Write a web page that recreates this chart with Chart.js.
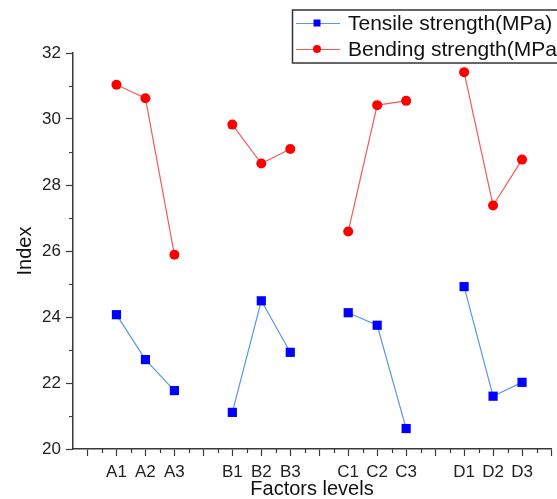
<!DOCTYPE html>
<html>
<head>
<meta charset="utf-8">
<script src="https://cdn.jsdelivr.net/npm/chart.js@4/dist/chart.umd.min.js"></script>
<style>
  html, body { margin: 0; padding: 0; background: #fff; overflow: hidden; }
  #wrap { width: 557px; height: 499px; overflow: hidden; position: relative; }
  #wrap canvas { position: absolute; left: 0; top: 0; }
</style>
</head>
<body>
<div id="wrap"><canvas id="LevelChart" width="600" height="499"></canvas></div>
<script>
// factor groups and their levels (A1..D3)
const groups = ['A', 'B', 'C', 'D'];
const levelsPerGroup = 3;
const levelLabels = ['A1', 'A2', 'A3', 'B1', 'B2', 'B3', 'C1', 'C2', 'C3', 'D1', 'D2', 'D3'];

// values
const tensile = [24.07, 22.71, 21.77, 21.11, 24.49, 22.93, 24.13, 23.75, 20.62, 24.92, 21.60, 22.02];
const bending = [31.04, 30.63, 25.89, 29.83, 28.65, 29.09, 26.59, 30.42, 30.55, 31.42, 27.38, 28.77];

const yTicks = [20, 22, 24, 26, 28, 30, 32];

const FONT = 'Arial, "Liberation Sans", sans-serif';

// every level sits on a whole number, with one empty slot between groups
const labelAt = {};
function buildPoints(values) {
  const pts = [];
  groups.forEach((g, gi) => {
    for (let i = 0; i < levelsPerGroup; i++) {
      const idx = gi * levelsPerGroup + i;
      const x = gi * (levelsPerGroup + 1) + i + 2;
      labelAt[x] = levelLabels[idx];
      pts.push({ x: x, y: values[idx] });
    }
    if (gi < groups.length - 1) {
      pts.push({ x: gi * (levelsPerGroup + 1) + levelsPerGroup + 2, y: null }); // break the line
    }
  });
  return pts;
}

// short minor ticks between the labelled ones
const minorTicks = {
  id: 'minorTicks',
  afterDraw(chart) {
    const ctx = chart.ctx;
    const xs = chart.scales.x, ys = chart.scales.y;
    ctx.save();
    ctx.strokeStyle = '#3a3a3a';
    ctx.lineWidth = 1.2;
    ctx.beginPath();
    for (let v = 1.5; v < xs.max; v += 1) {
      const px = Math.round(xs.getPixelForValue(v)) + 0.5;
      ctx.moveTo(px, xs.top);
      ctx.lineTo(px, xs.top + 4);
    }
    for (let v = 21; v < ys.max; v += 2) {
      const py = Math.round(ys.getPixelForValue(v)) + 0.5;
      ctx.moveTo(ys.right, py);
      ctx.lineTo(ys.right - 4, py);
    }
    ctx.stroke();
    ctx.restore();
  }
};

// boxed legend in the upper right, running off the edge like the original
const boxLegend = {
  id: 'boxLegend',
  afterDraw(chart) {
    const ctx = chart.ctx;
    ctx.save();
    ctx.strokeStyle = '#333';
    ctx.lineWidth = 1.5;
    ctx.fillStyle = '#fff';
    ctx.fillRect(292, 10, 320, 53);
    ctx.strokeRect(292.5, 10, 320, 53);
    const rows = [23, 49];
    chart.data.datasets.forEach((ds, i) => {
      const y = rows[i];
      ctx.strokeStyle = ds.borderColor;
      ctx.lineWidth = 1.2;
      ctx.beginPath();
      ctx.moveTo(296, y + 0.5);
      ctx.lineTo(340, y + 0.5);
      ctx.stroke();
      ctx.fillStyle = ds.pointBackgroundColor;
      ctx.beginPath();
      if (ds.pointStyle === 'rect') {
        ctx.rect(313.5, y - 3.5, 7, 7);
      } else {
        ctx.arc(317, y, 4, 0, Math.PI * 2);
      }
      ctx.fill();
      ctx.fillStyle = '#111';
      ctx.font = '21px ' + FONT;
      ctx.textBaseline = 'middle';
      ctx.textAlign = 'left';
      ctx.fillText(ds.label, 348, y + 1);
    });
    ctx.restore();
  }
};

const ctx = document.getElementById('LevelChart').getContext('2d');
new Chart(ctx, {
  type: 'line',
  data: {
    datasets: [{
      label: 'Tensile strength(MPa)',
      data: buildPoints(tensile),
      borderColor: 'rgb(90, 150, 230)',
      borderWidth: 1.2,
      pointStyle: 'rect',
      pointRadius: 6.5,
      pointBackgroundColor: '#0000ff',
      pointBorderColor: '#0000ff',
      pointBorderWidth: 0,
      spanGaps: false,
      tension: 0
    }, {
      label: 'Bending strength(MPa)',
      data: buildPoints(bending),
      borderColor: 'rgb(245, 90, 90)',
      borderWidth: 1.2,
      pointStyle: 'circle',
      pointRadius: 5,
      pointBackgroundColor: '#ff0000',
      pointBorderColor: '#ff0000',
      pointBorderWidth: 0,
      spanGaps: false,
      tension: 0
    }]
  },
  options: {
    responsive: false,
    animation: false,
    layout: { padding: { top: 53, right: 49, left: 0, bottom: 0 } },
    plugins: {
      legend: { display: false },
      tooltip: { enabled: false }
    },
    scales: {
      x: {
        type: 'linear',
        min: 0.5,
        max: 17,
        afterBuildTicks: (scale) => {
          const t = [];
          for (let v = 1; v <= 17; v++) t.push({ value: v });
          scale.ticks = t;
        },
        afterFit: (scale) => { scale.height = 50; },
        border: { display: true, color: '#3a3a3a', width: 1.5 },
        grid: { drawOnChartArea: false, tickLength: 7, color: '#3a3a3a', tickWidth: 1.2 },
        ticks: {
          autoSkip: false,
          maxRotation: 0,
          padding: 6,
          color: '#222',
          font: { family: FONT, size: 17 },
          callback: (v) => labelAt[v] || ''
        },
        title: {
          display: true,
          text: 'Factors levels',
          color: '#111',
          font: { family: FONT, size: 20, lineHeight: 1 },
          padding: { top: 0, bottom: 0 }
        }
      },
      y: {
        min: 20,
        max: 32,
        afterBuildTicks: (scale) => { scale.ticks = yTicks.map(v => ({ value: v })); },
        afterFit: (scale) => { scale.width = 73; },
        border: { display: true, color: '#3a3a3a', width: 1.5 },
        grid: { drawOnChartArea: false, tickLength: 7, color: '#3a3a3a', tickWidth: 1.2 },
        ticks: {
          padding: 5,
          color: '#222',
          font: { family: FONT, size: 17 }
        },
        title: {
          display: true,
          text: 'Index',
          color: '#111',
          font: { family: FONT, size: 20, lineHeight: 1 },
          padding: { top: 15, bottom: 0 }
        }
      }
    }
  },
  plugins: [minorTicks, boxLegend]
});
</script>
</body>
</html>
